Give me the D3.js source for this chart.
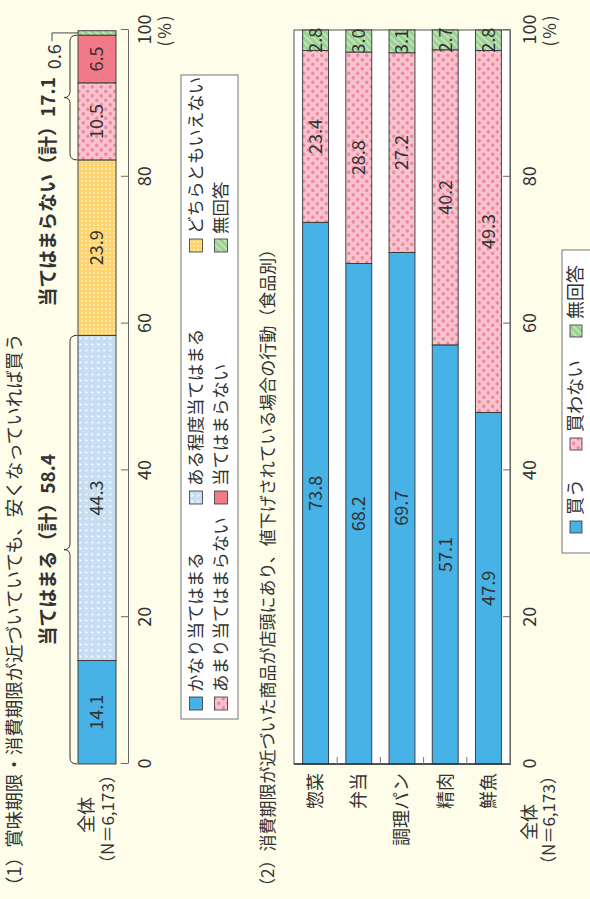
<!DOCTYPE html>
<html><head><meta charset="utf-8">
<script src="https://cdn.jsdelivr.net/npm/d3@7"></script>
<style>html,body{margin:0;padding:0;background:#FEFDEA;}svg{display:block;}</style>
</head><body>
<script>
// ---- data ----
const overallCats = ["かなり当てはまる","ある程度当てはまる","どちらともいえない","あまり当てはまらない","当てはまらない","無回答"];
const overallValues = [14.1,44.3,23.9,10.5,6.5,0.6];
const applySum = 58.4;
const notApplySum = 17.1;
const foodCats = ["惣菜","弁当","調理パン","精肉","鮮魚"];
const foodSeries = ["買う","買わない","無回答"];
const buyValues = [73.8,68.2,69.7,57.1,47.9];
const notBuyValues = [23.4,28.8,27.2,40.2,49.3];
const noAnswerValues = [2.8,3.0,3.1,2.7,2.8];
const tickValues = [0,20,40,60,80,100];
const title1 = "（1）賞味期限・消費期限が近づいていても、安くなっていれば買う";
const title2 = "（2）消費期限が近づいた商品が店頭にあり、値下げされている場合の行動（食品別）";

const FONT = "'Noto Sans CJK JP','Noto Sans',sans-serif";
const TXT = "#333";

const svg = d3.select("body").append("svg").attr("width",590).attr("height",899)
  .attr("font-family",FONT);
svg.append("rect").attr("width",590).attr("height",899).attr("fill","#FEFDEA");

// patterns
const defs = svg.append("defs");
function pat(id,w,h,bg){const p=defs.append("pattern").attr("id",id).attr("patternUnits","userSpaceOnUse").attr("width",w).attr("height",h);p.append("rect").attr("width",w).attr("height",h).attr("fill",bg);return p;}
let p;
p = pat("pLB",6,6,"#C6DEF4");
p.append("path").attr("d","M1,1.5 L4,1.5 L2.5,4 Z").attr("fill","#FFFFFF").attr("opacity",0.9);
p = pat("pY",4,4,"#FFD46F");
p.append("circle").attr("cx",2).attr("cy",2).attr("r",1).attr("fill","#FFF1B8");
p = pat("pP",9,9,"#F9C3CD");
p.append("circle").attr("cx",2.2).attr("cy",2.2).attr("r",1.8).attr("fill","#EE87A1");
p.append("circle").attr("cx",6.7).attr("cy",6.7).attr("r",1.8).attr("fill","#EE87A1");
p = pat("pG",5,5,"#9BD193").attr("patternTransform","rotate(45)");
p.append("rect").attr("width",1.6).attr("height",5).attr("fill","#C9E8C0");

const fills = ["#46B2E5","url(#pLB)","url(#pY)","url(#pP)","#F27A88","url(#pG)"];
const legendSw = fills;
const foodFills = ["#46B2E5","url(#pP)","url(#pG)"];

// rotated drawing group: u along 0..899 (screen bottom->top), v along 0..590 (screen left->right)
const g = svg.append("g").attr("transform","translate(0,899) rotate(-90)");

const x = d3.scaleLinear().domain([0,100]).range([135,869]);

// ---------- Panel 1 ----------
g.append("text").attr("x",4).attr("y",21).attr("font-size",18.5).attr("fill",TXT).text(title1);

const ends = d3.cumsum(overallValues);
const segs = overallValues.map((v,i)=>({v,i,s:ends[i]-v,e:Math.min(100,ends[i])}));
const bar1 = g.append("g");
bar1.selectAll("rect").data(segs).join("rect")
  .attr("x",d=>x(d.s)).attr("width",d=>x(d.e)-x(d.s))
  .attr("y",78).attr("height",38)
  .attr("fill",d=>fills[d.i]).attr("stroke","#333").attr("stroke-width",0.9);
bar1.selectAll("text").data(segs.filter(d=>d.v>=2)).join("text")
  .attr("x",d=>x((d.s+d.e)/2)).attr("y",97).attr("dy","0.35em")
  .attr("text-anchor","middle").attr("font-size",18).attr("fill",TXT)
  .text(d=>d3.format(".1f")(d.v));

// small value label with leader
const last = segs[segs.length-1];
g.append("text").attr("x",x(last.s)-9).attr("y",55).attr("dy","0.35em").attr("text-anchor","end")
  .attr("font-size",18).attr("fill",TXT).text(d3.format(".1f")(last.v));
g.append("path").attr("fill","none").attr("stroke","#333").attr("stroke-width",0.9)
  .attr("d",`M${x(last.s)-6},52 L${x((last.s+last.e)/2)},52 L${x((last.s+last.e)/2)},78`);

// braces
function brace(u0,u1,vb,vl,vt){
  const m=(u0+u1)/2;
  return `M${u0},${vb} Q${u0},${vl} ${u0+6},${vl} L${m-6},${vl} Q${m},${vl} ${m},${vt} Q${m},${vl} ${m+6},${vl} L${u1-6},${vl} Q${u1},${vl} ${u1},${vb}`;
}
g.append("path").attr("fill","none").attr("stroke","#333").attr("stroke-width",1)
  .attr("d",brace(x(0),x(applySum),77,70,64));
g.append("path").attr("fill","none").attr("stroke","#333").attr("stroke-width",1)
  .attr("d",brace(x(ends[2]),x(ends[4]),77,70,64));
g.append("text").attr("x",x(applySum/2)).attr("y",48).attr("dy","0.35em").attr("text-anchor","middle")
  .attr("font-size",19).attr("font-weight","bold").attr("fill",TXT).text(`当てはまる（計）${applySum}`);
g.append("text").attr("x",x(ends[4])-42).attr("y",48).attr("dy","0.35em").attr("text-anchor","end")
  .attr("font-size",19).attr("font-weight","bold").attr("fill",TXT).text(`当てはまらない（計）${notApplySum}`);

// axis 1
const ax1 = g.append("g").attr("transform","translate(0,128)")
  .call(d3.axisBottom(x).tickValues(tickValues).tickSizeInner(-7).tickSizeOuter(0).tickFormat(d3.format("d")));
ax1.attr("font-family",FONT).attr("font-size",18);
ax1.select(".domain").attr("stroke","#666");
ax1.selectAll(".tick line").attr("stroke","#666");
ax1.selectAll(".tick text").attr("y",17).attr("dy","0.35em").attr("fill",TXT);
g.append("text").attr("x",x(100)).attr("y",165).attr("dy","0.35em").attr("text-anchor","middle")
  .attr("font-size",17).attr("letter-spacing",2).attr("fill",TXT).text("(%)");

// row label 1
g.append("text").attr("x",84).attr("y",87).attr("dy","0.35em").attr("text-anchor","middle").attr("font-size",18).attr("fill",TXT).text("全体");
g.append("text").attr("x",80).attr("y",108).attr("dy","0.35em").attr("text-anchor","middle").attr("font-size",17).attr("fill",TXT).text("（N＝6,173）");

// legend 1
const lg1 = g.append("g");
lg1.append("rect").attr("x",180).attr("y",181).attr("width",644).attr("height",57).attr("fill","#fff").attr("stroke","#777").attr("stroke-width",1);
const colU = [189,395,647];
const rowV = [196,221];
const legendPos = [[0,0],[1,0],[2,0],[0,1],[1,1],[2,1]];
const li = lg1.selectAll("g.li").data(overallCats).join("g").attr("class","li")
  .attr("transform",(d,i)=>`translate(${colU[legendPos[i][0]]},${rowV[legendPos[i][1]]})`);
li.append("rect").attr("x",0).attr("y",-6.5).attr("width",13).attr("height",13)
  .attr("fill",(d,i)=>legendSw[i]).attr("stroke","#333").attr("stroke-width",0.8);
li.append("text").attr("x",18).attr("dy","0.35em").attr("font-size",17.5).attr("fill",TXT).text(d=>d);

// ---------- Panel 2 ----------
g.append("text").attr("x",4).attr("y",274).attr("font-size",17).attr("fill",TXT).text(title2);

const y = d3.scaleBand().domain(foodCats).range([294,510]).paddingInner(0.4).paddingOuter(0.2);
g.append("rect").attr("x",x(0)).attr("y",294).attr("width",x(100)-x(0)).attr("height",216)
  .attr("fill","#fff").attr("stroke","#555").attr("stroke-width",1);

const foodRows = foodCats.map((c,i)=>({cat:c,"買う":buyValues[i],"買わない":notBuyValues[i],"無回答":noAnswerValues[i]}));
const stacked = d3.stack().keys(foodSeries)(foodRows);
const layers = g.append("g").selectAll("g").data(stacked).join("g").attr("fill",(d,i)=>foodFills[i]);
layers.selectAll("rect").data(d=>d).join("rect")
  .attr("x",d=>x(d[0])).attr("width",d=>x(Math.min(100,d[1]))-x(d[0]))
  .attr("y",d=>y(d.data.cat)).attr("height",y.bandwidth())
  .attr("stroke","#333").attr("stroke-width",0.9);
layers.selectAll("text").data(d=>d.map(e=>({e,key:d.key}))).join("text")
  .attr("x",d=>x((d.e[0]+Math.min(100,d.e[1]))/2)).attr("y",d=>y(d.e.data.cat)+y.bandwidth()/2)
  .attr("dy","0.35em").attr("text-anchor","middle").attr("font-size",18).attr("fill",TXT)
  .text(d=>d3.format(".1f")(d.e.data[d.key]));

// baseline + separators + category labels
g.append("line").attr("x1",x(0)).attr("x2",x(0)).attr("y1",294).attr("y2",511).attr("stroke","#333").attr("stroke-width",1.5);
const seps = foodCats.slice(1).map(c=>y(c)-y.step()*y.paddingInner()/2);
g.selectAll("line.sep").data(seps).join("line").attr("class","sep")
  .attr("x1",x(0)).attr("x2",x(0)+7).attr("y1",d=>d).attr("y2",d=>d).attr("stroke","#777");
g.selectAll("text.cat").data(foodCats).join("text").attr("class","cat")
  .attr("x",x(0)-9).attr("y",d=>y(d)+y.bandwidth()/2).attr("dy","0.35em").attr("text-anchor","end")
  .attr("font-size",18).attr("fill",TXT).text(d=>d);

// axis 2
const ax2 = g.append("g").attr("transform","translate(0,510)")
  .call(d3.axisBottom(x).tickValues(tickValues).tickSizeInner(-7).tickSizeOuter(0).tickFormat(d3.format("d")));
ax2.attr("font-family",FONT).attr("font-size",18);
ax2.select(".domain").attr("stroke","#666");
ax2.selectAll(".tick line").attr("stroke","#666");
ax2.selectAll(".tick text").attr("y",20).attr("dy","0.35em").attr("fill",TXT);
g.append("text").attr("x",x(100)).attr("y",550).attr("dy","0.35em").attr("text-anchor","middle")
  .attr("font-size",17).attr("letter-spacing",2).attr("fill",TXT).text("(%)");
g.append("text").attr("x",77).attr("y",530).attr("dy","0.35em").attr("text-anchor","middle").attr("font-size",18).attr("fill",TXT).text("全体");
g.append("text").attr("x",79).attr("y",549).attr("dy","0.35em").attr("text-anchor","middle").attr("font-size",17).attr("fill",TXT).text("（N＝6,173）");

// legend 2
const lg2 = g.append("g");
lg2.append("rect").attr("x",346).attr("y",562).attr("width",303).attr("height",40).attr("fill","#fff").attr("stroke","#777");
const l2u = [366,449,562];
const li2 = lg2.selectAll("g.li2").data(foodSeries).join("g").attr("class","li2")
  .attr("transform",(d,i)=>`translate(${l2u[i]},576)`);
li2.append("rect").attr("y",-6).attr("width",12).attr("height",12).attr("fill",(d,i)=>foodFills[i]).attr("stroke","#333").attr("stroke-width",0.8);
li2.append("text").attr("x",18).attr("dy","0.35em").attr("font-size",18).attr("fill",TXT).text(d=>d);
</script>
</body></html>
